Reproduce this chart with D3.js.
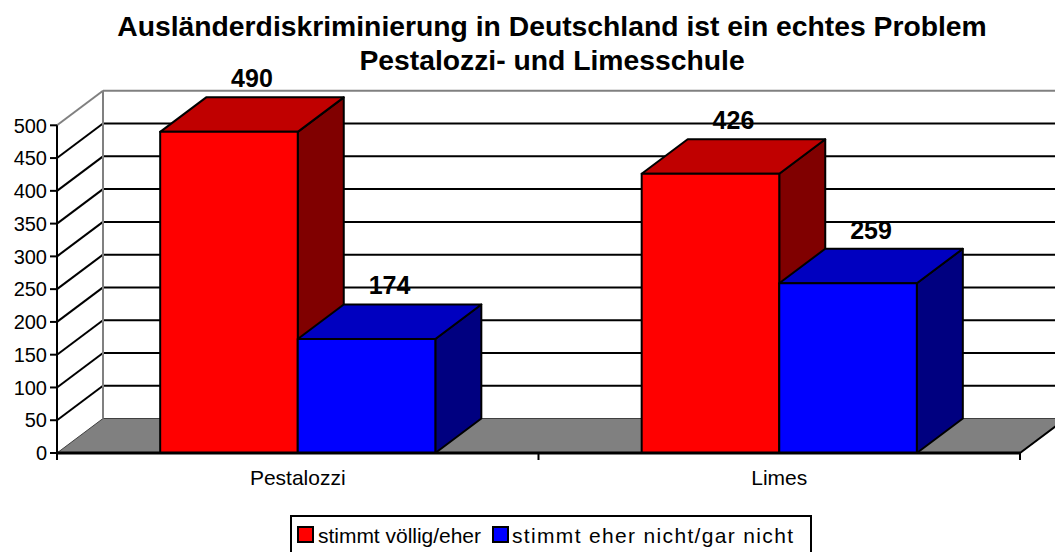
<!DOCTYPE html>
<html><head><meta charset="utf-8">
<script src="https://cdn.jsdelivr.net/npm/d3@7/dist/d3.min.js"></script>
<style>body{margin:0;background:#fff}svg{display:block;font-family:"Liberation Sans",Arial,sans-serif}</style>
</head><body>
<svg id="c" width="1055" height="552"></svg>
<script>
const titleLines = ["Ausländerdiskriminierung in Deutschland ist ein echtes Problem", "Pestalozzi- und Limesschule"];
const categories = ["Pestalozzi", "Limes"];
const seriesNames = ["stimmt völlig/eher", "stimmt eher nicht/gar nicht"];
const seriesA = [490, 426];
const seriesB = [174, 259];
const yTicks = [0, 50, 100, 150, 200, 250, 300, 350, 400, 450, 500];

const front = {x0: 57, x1: 1020, y0: 453, y1: 125.3};
const DX = 46, DY = -34.5;
const colors = [
  {front: "#FF0000", top: "#C00000", side: "#800000"},
  {front: "#0000FF", top: "#0000C0", side: "#000080"}
];

const svg = d3.select("#c");
const y = d3.scaleLinear().domain([0, 500]).range([front.y0, front.y1]);
const x0 = d3.scaleBand().domain(categories).range([front.x0, front.x1]);
const x1 = d3.scaleBand().domain(seriesNames).range([0, x0.bandwidth()]).paddingInner(0).paddingOuter(0.75);

// floor
svg.append("path")
  .attr("d", `M${front.x0},${y(0)} L${front.x0+DX},${y(0)+DY} L${front.x1+DX},${y(0)+DY} L${front.x1},${y(0)} Z`)
  .attr("fill", "#808080").attr("stroke", "#404040").attr("stroke-width", 1);
svg.append("line").attr("x1", front.x1).attr("y1", y(0)).attr("x2", front.x1+DX).attr("y2", y(0)+DY)
  .attr("stroke", "#000").attr("stroke-width", 2);

// gridlines
yTicks.filter(v => v > 0 && v < 500).forEach(v => {
  svg.append("line").attr("x1", front.x0+DX).attr("x2", 1060).attr("y1", y(v)+DY).attr("y2", y(v)+DY)
    .attr("stroke", "#000").attr("stroke-width", 2);
  svg.append("line").attr("x1", front.x0).attr("y1", y(v)).attr("x2", front.x0+DX).attr("y2", y(v)+DY)
    .attr("stroke", "#000").attr("stroke-width", 2);
});
// wall edges (gray)
svg.append("line").attr("x1", front.x0+DX).attr("x2", 1060).attr("y1", y(500)+DY).attr("y2", y(500)+DY)
  .attr("stroke", "#808080").attr("stroke-width", 2);
svg.append("line").attr("x1", front.x0).attr("y1", y(500)).attr("x2", front.x0+DX).attr("y2", y(500)+DY)
  .attr("stroke", "#808080").attr("stroke-width", 2);
svg.append("line").attr("x1", front.x0+DX).attr("x2", front.x0+DX).attr("y1", y(500)+DY).attr("y2", y(0)+DY)
  .attr("stroke", "#808080").attr("stroke-width", 2);

// bars
const bars = [];
categories.forEach((c, i) => {
  [seriesA[i], seriesB[i]].forEach((v, s) => {
    bars.push({cat: c, s, v, left: x0(c) + x1(seriesNames[s]), w: x1.bandwidth()});
  });
});
const g = svg.append("g");
bars.forEach(b => {
  const L = b.left, R = b.left + b.w, T = y(b.v), B = y(0);
  const col = colors[b.s];
  const bg = g.append("g").attr("stroke", "#000").attr("stroke-width", 2).attr("stroke-linejoin", "round");
  bg.append("path").attr("d", `M${R},${T} L${R+DX},${T+DY} L${R+DX},${B+DY} L${R},${B} Z`).attr("fill", col.side);
  bg.append("path").attr("d", `M${L},${T} L${L+DX},${T+DY} L${R+DX},${T+DY} L${R},${T} Z`).attr("fill", col.top);
  bg.append("rect").attr("x", L).attr("y", T).attr("width", b.w).attr("height", B - T).attr("fill", col.front);
});
bars.forEach(b => {
  svg.append("text").attr("x", b.left + b.w/2 + DX/2).attr("y", y(b.v) + DY - 10)
    .attr("text-anchor", "middle").attr("font-size", 25).attr("font-weight", "bold").text(b.v);
});

// axes
svg.append("line").attr("x1", front.x0).attr("x2", front.x0).attr("y1", y(500)).attr("y2", y(0)+1)
  .attr("stroke", "#000").attr("stroke-width", 2);
svg.append("line").attr("x1", front.x0-1).attr("x2", front.x1).attr("y1", y(0)).attr("y2", y(0))
  .attr("stroke", "#000").attr("stroke-width", 3);
const yAxis = svg.append("g");
yTicks.forEach(v => {
  yAxis.append("line").attr("x1", front.x0-7).attr("x2", front.x0).attr("y1", y(v)).attr("y2", y(v))
    .attr("stroke", "#000").attr("stroke-width", 2);
  yAxis.append("text").attr("x", front.x0-10).attr("y", y(v)).attr("dy", "0.36em")
    .attr("text-anchor", "end").attr("font-size", 20).text(v);
});
const xTickPos = [front.x0, ...categories.slice(1).map(c => x0(c)), front.x1];
xTickPos.forEach(px => {
  svg.append("line").attr("x1", px).attr("x2", px).attr("y1", y(0)).attr("y2", y(0)+7)
    .attr("stroke", "#000").attr("stroke-width", 2);
});
categories.forEach(c => {
  svg.append("text").attr("x", x0(c) + x0.bandwidth()/2).attr("y", 485)
    .attr("text-anchor", "middle").attr("font-size", 21).text(c);
});

// title
titleLines.forEach((t, i) => {
  svg.append("text").attr("x", 552).attr("y", 36 + i*34).attr("text-anchor", "middle")
    .attr("font-size", 28.3).attr("font-weight", "bold").text(t);
});

// legend
const lg = svg.append("g");
lg.append("rect").attr("x", 291).attr("y", 516).attr("width", 520).attr("height", 40)
  .attr("fill", "#fff").attr("stroke", "#000").attr("stroke-width", 2);
const legendItems = [
  {sx: 298, tx: 318, len: 163},
  {sx: 493, tx: 512, len: 281}
];
legendItems.forEach((it, i) => {
  lg.append("rect").attr("x", it.sx).attr("y", 527).attr("width", 15).attr("height", 15)
    .attr("fill", colors[i].front).attr("stroke", "#000").attr("stroke-width", 2);
  lg.append("text").attr("x", it.tx).attr("y", 543).attr("font-size", 21)
    .attr("textLength", it.len).attr("lengthAdjust", "spacing").text(seriesNames[i]);
});
</script>
</body></html>
